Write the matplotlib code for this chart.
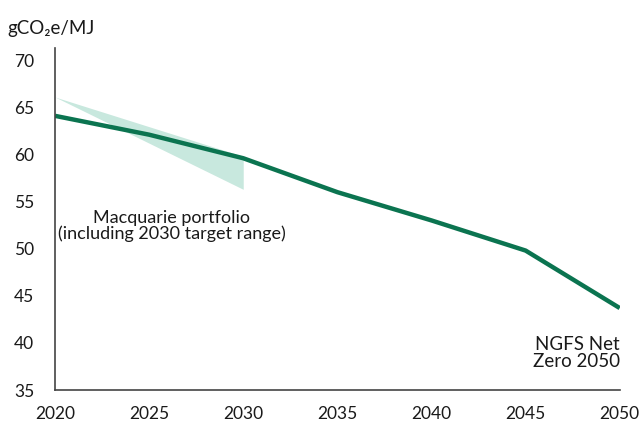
import matplotlib.pyplot as plt

years = [2020, 2025, 2030, 2035, 2040, 2045, 2050]
ngfs_net_zero = [64.1, 62.1, 59.6, 56.0, 53.0, 49.8, 43.7]

# Macquarie portfolio target range (2020 -> 2030)
range_years = [2020, 2030]
range_upper = [66.1, 59.8]
range_lower = [66.1, 56.3]

y_ticks = [35, 40, 45, 50, 55, 60, 65, 70]
x_ticks = [2020, 2025, 2030, 2035, 2040, 2045, 2050]

plt.rcParams["font.family"] = ["Lato", "DejaVu Sans"]
text_color = "#1a1a1a"

fig = plt.figure(figsize=(6.41, 4.23), dpi=100)
ax = fig.add_axes([0.0858, 0.078, 0.881, 0.8085])

ax.fill_between(range_years, range_lower, range_upper, color="#c8e8de", linewidth=0, zorder=1)
ax.plot(years, ngfs_net_zero, color="#0b7450", linewidth=3.2, solid_capstyle="butt", zorder=2)

ax.set_xlim(2020, 2050)
ax.set_ylim(35, 71.3)
ax.set_xticks(x_ticks)
ax.set_yticks(y_ticks)
ax.tick_params(length=0, labelsize=12.5, colors=text_color)
ax.tick_params(axis="y", pad=15)
ax.tick_params(axis="x", pad=11.5)

for side in ["top", "right"]:
    ax.spines[side].set_visible(False)
ax.spines["left"].set_color("#444444")
ax.spines["bottom"].set_color("#444444")
ax.spines["left"].set_linewidth(1.2)
ax.spines["bottom"].set_linewidth(1.2)

fig.text(0.012, 0.933, "gCO₂e/MJ", fontsize=13.5, color=text_color, ha="left", va="center")

ax.text(2026.2, 52.4, "Macquarie portfolio\n(including 2030 target range)",
        ha="center", va="center", fontsize=13, color=text_color, linespacing=1.0)
ax.text(2050, 38.9, "NGFS Net\nZero 2050", ha="right", va="center",
        fontsize=13.5, color=text_color, linespacing=1.0)

fig.savefig("out.png", dpi=100)
